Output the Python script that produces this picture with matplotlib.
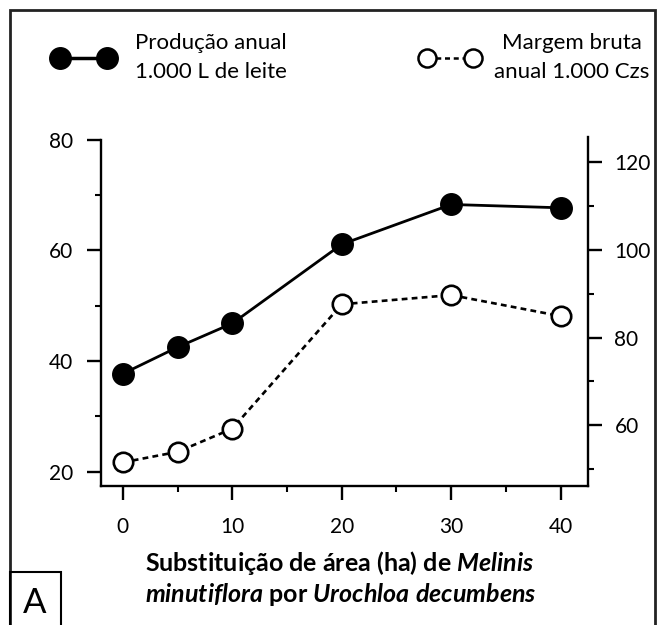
import matplotlib
matplotlib.use('Agg')
import matplotlib.pyplot as plt
from matplotlib.lines import Line2D
from matplotlib.patches import Rectangle
from matplotlib.ticker import MultipleLocator

plt.rcParams['font.family'] = ['Lato', 'DejaVu Sans']
plt.rcParams['mathtext.fontset'] = 'custom'
plt.rcParams['mathtext.it'] = 'Lato:italic:bold'
plt.rcParams['mathtext.rm'] = 'Lato:bold'

# data
area = [0, 5, 10, 20, 30, 40]
producao = [37.7, 42.5, 46.8, 61.1, 68.3, 67.7]     # 1.000 L de leite (left axis)
margem = [51.5, 53.9, 59.2, 87.6, 89.7, 84.9]       # 1.000 Czs (right axis)

W, H = 663, 625
fig = plt.figure(figsize=(W/100, H/100), dpi=100)

def fx(px): return px / W
def fy(py): return 1 - py / H

ax = fig.add_axes([fx(101), fy(486), fx(588) - fx(101), fy(137) - fy(486)])
ax2 = ax.twinx()

ax.plot(area, producao, '-', color='black', lw=2, marker='o', ms=15.5,
        mfc='black', mec='black', zorder=3)
ax2.plot(area, margem, color='black', lw=1.9, ls=(0, (2.2, 1.6)), marker='o', ms=14,
         mfc='white', mec='black', mew=1.9, zorder=3)

ax.set_xlim(-2, 42.5)
ax.set_ylim(17.4, 80.5)
ax2.set_ylim(46.1, 125.8)

ax.xaxis.set_major_locator(MultipleLocator(10))
ax.xaxis.set_minor_locator(MultipleLocator(5))
ax.yaxis.set_major_locator(MultipleLocator(20))
ax.yaxis.set_minor_locator(MultipleLocator(10))
ax2.yaxis.set_major_locator(MultipleLocator(20))
ax2.yaxis.set_minor_locator(MultipleLocator(10))

for a in (ax, ax2):
    a.spines['top'].set_visible(False)
    for s in a.spines.values():
        s.set_linewidth(1.7)
    a.tick_params(which='major', length=10, width=1.7, labelsize=15)
    a.tick_params(which='minor', length=4, width=1.5)
ax.spines['right'].set_visible(False)
ax.spines['left'].set_bounds(17.4, 80)
ax2.spines['left'].set_visible(False)
ax2.spines['bottom'].set_visible(False)
ax.tick_params(axis='y', pad=10)
ax.tick_params(axis='x', pad=12)
ax2.tick_params(axis='y', pad=9)

# x label in two lines, bold with italic species names
fig.text(fx(340), fy(563), r'Substituição de área (ha) de $Melinis$',
         ha='center', va='center', fontsize=18, fontweight='bold')
fig.text(fx(341), fy(594), r'$minutiflora$ por $Urochloa\ decumbens$',
         ha='center', va='center', fontsize=18, fontweight='bold')

# legend drawn by hand
fig.add_artist(Line2D([fx(60), fx(107)], [fy(58), fy(58)], color='black', lw=2.5,
                      marker='o', ms=15.5, mfc='black', mec='black'))
fig.text(fx(135), fy(43), 'Produção anual', ha='left', va='center', fontsize=16)
fig.text(fx(135), fy(72), '1.000 L de leite', ha='left', va='center', fontsize=16)
fig.add_artist(Line2D([fx(427), fx(473)], [fy(58), fy(58)], color='black', lw=1.8,
                      ls=(0, (2, 1.5)), marker='o', ms=13, mfc='white', mec='black', mew=1.8))
fig.text(fx(572), fy(43), 'Margem bruta', ha='center', va='center', fontsize=16)
fig.text(fx(572), fy(72), 'anual 1.000 Czs', ha='center', va='center', fontsize=16)

# outer frame and panel letter
fig.add_artist(Rectangle((fx(10), fy(640)), fx(655) - fx(10), fy(10) - fy(640),
                         fill=False, ec='#222222', lw=2, clip_on=False))
fig.add_artist(Rectangle((fx(10), fy(640)), fx(61) - fx(10), fy(572) - fy(640),
                         fill=False, ec='black', lw=1.5, clip_on=False))
fig.text(fx(35), fy(603), 'A', ha='center', va='center', fontsize=25)

fig.savefig('out.png', dpi=100)
